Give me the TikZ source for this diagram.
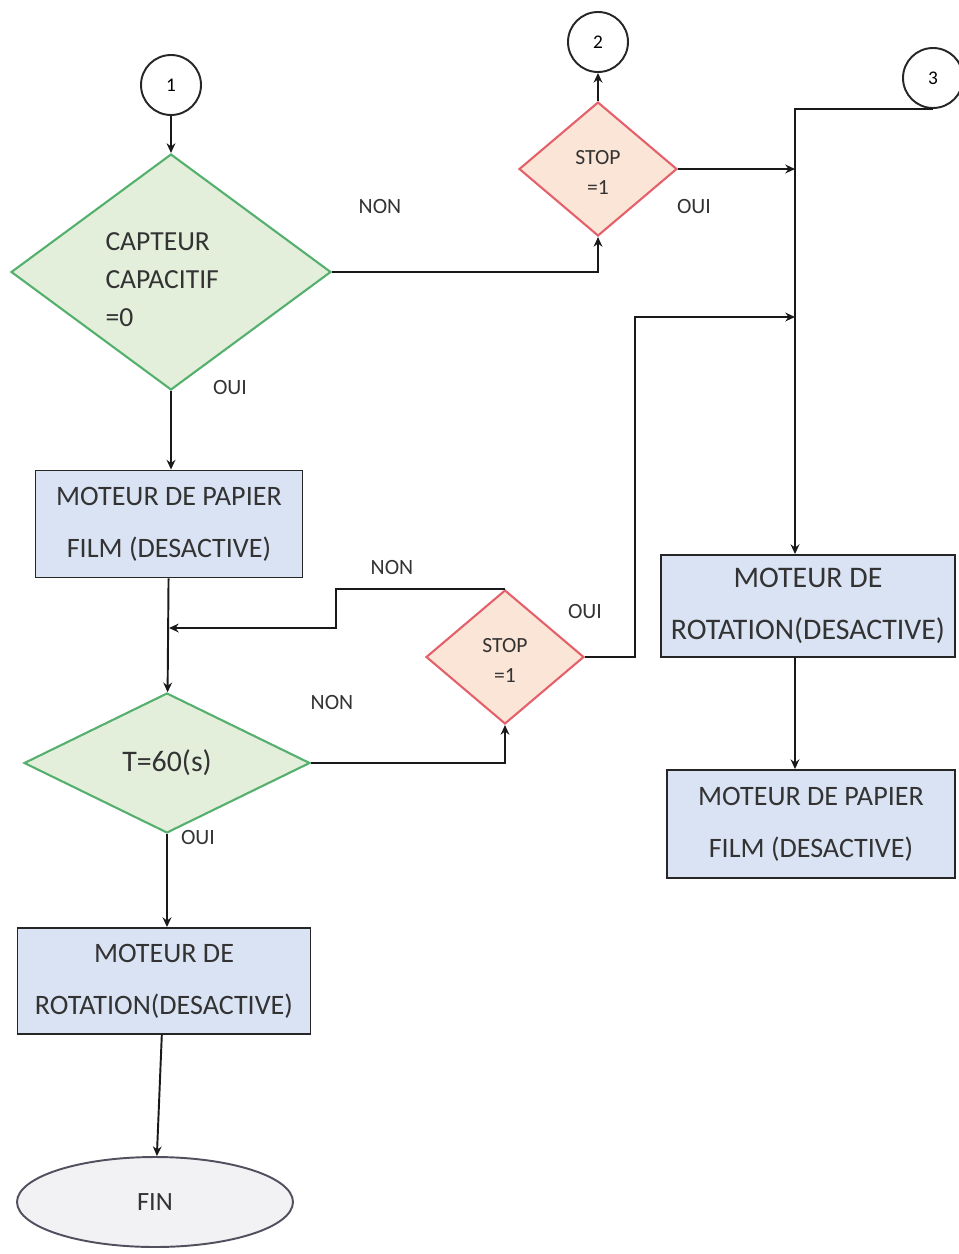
\documentclass[tikz,border=0pt]{standalone}
\usepackage{fontspec}
\setmainfont{Carlito}
\usetikzlibrary{arrows.meta,shapes.geometric,calc}
\definecolor{textgray}{HTML}{333333}
\definecolor{greenline}{HTML}{55B06E}
\definecolor{greenfill}{HTML}{E3EFDB}
\definecolor{redline}{HTML}{E4606A}
\definecolor{redfill}{HTML}{FBE5D6}
\definecolor{bluefill}{HTML}{DAE3F3}
\definecolor{finline}{HTML}{50505E}
\definecolor{finfill}{HTML}{F2F2F5}
\tikzset{
    wire/.style={line width=1.1pt, color=black!90},
    arr/.style={wire,-{Stealth[length=5.5pt,width=5pt]}},
    test green/.style={diamond,draw=greenline,fill=greenfill,line width=1.2pt,inner sep=0pt,text=textgray,
        font=\fontsize{15.7}{21.5}\selectfont},
    test red/.style={diamond,draw=redline,fill=redfill,line width=1.2pt,inner sep=0pt,text=textgray,
        minimum width=3.16cm,minimum height=2.68cm,align=center,font=\fontsize{12.3}{17}\selectfont},
    action/.style={rectangle,draw=black!85,fill=bluefill,line width=1.1pt,text=textgray,align=center,
        font=\fontsize{16}{29.5}\selectfont},
    refcircle/.style={circle,draw=black!85,line width=1.1pt,fill=white,minimum size=1.2cm,inner sep=0pt,
        font=\fontsize{11}{12}\selectfont},
    terminal/.style={ellipse,draw=finline,fill=finfill,line width=1.1pt,minimum width=5.52cm,minimum height=1.8cm,
        text=textgray,font=\fontsize{15}{18}\selectfont},
    lbl/.style={text=textgray,font=\fontsize{12.4}{13}\selectfont,inner sep=0pt},
}
% text lowered inside a shape, box size kept
\newcommand{\lowered}[2]{\raisebox{-#1}[\height][\depth]{#2}}

\begin{document}
\begin{tikzpicture}[x=0.02cm,y=-0.02cm]
    \useasboundingbox (0,0) rectangle (958,1254);

    % left column
    \node[refcircle] (c1) at (171,85) {1};
    \node[test green,aspect=1.36,minimum width=6.4cm,minimum height=4.72cm] (capteur) at (171,272)
        {\lowered{5pt}{\begin{tabular}{@{}l@{}}CAPTEUR\\CAPACITIF\\=0\end{tabular}}\hspace*{10pt}};
    \node[action,minimum width=5.34cm,minimum height=2.14cm] (papier) at (169,524) {MOTEUR DE PAPIER\\FILM (DESACTIVE)};
    \node[test green,minimum width=5.72cm,minimum height=2.8cm,font=\fontsize{17}{18}\selectfont] (tempo) at (167,763) {T=60(s)};
    \node[action,minimum width=5.86cm,minimum height=2.12cm] (rotation) at (164,981) {MOTEUR DE\\ROTATION(DESACTIVE)};
    \node[terminal] (fin) at (155,1202) {FIN};

    % stop tests
    \node[test red] (stopA) at (598,169) {\lowered{2.5pt}{\begin{tabular}{@{}c@{}}STOP\\=1\end{tabular}}};
    \node[refcircle] (c2) at (598,42) {2};
    \node[test red] (stopB) at (505,657) {\lowered{2.5pt}{\begin{tabular}{@{}c@{}}STOP\\=1\end{tabular}}};

    % right column
    \node[refcircle] (c3) at (933,78) {3};
    \node[action,minimum width=5.88cm,minimum height=2.04cm,font=\fontsize{17}{29.5}\selectfont] (rotationD) at (808,606) {MOTEUR DE\\ROTATION(DESACTIVE)};
    \node[action,minimum width=5.76cm,minimum height=2.16cm] (papierD) at (811,824) {MOTEUR DE PAPIER\\FILM (DESACTIVE)};

    \coordinate (jA) at (795,168);
    \coordinate (jB) at (795,317);
    \coordinate (bendB) at (635,317);
    \coordinate (bendC) at (336,628);
    \coordinate (merge) at (169,628);

    \draw[arr] (c1) -- (capteur);
    \draw[arr] (capteur.east) -| (stopA.south);
    \draw[arr] (stopA) -- (c2);
    \draw[arr] (stopA.east) -- (stopA.east -| jA);
    \draw[arr] (c3.south) -- (c3.south -| jA) -- (jA |- rotationD.north);
    \draw[arr] (capteur.south) -- (capteur.south |- papier.north);
    \draw[arr] (papier) -- (tempo);
    \draw[arr] (stopB.north) -| (bendC) -- (merge);
    \draw[arr] (tempo.east) -| (stopB.south);
    \draw[arr] (stopB.east) -| (bendB) -- (jB);
    \draw[arr] (tempo.south) -- (tempo.south |- rotation.north);
    \draw[arr] (rotation) -- (fin);
    \draw[arr] (rotationD.south -| jA) -- (papierD.north -| jA);

    % answers
    \node[lbl] (nonA) at (380,207) {NON};
    \node[lbl] (ouiA) at (694,207) {OUI};
    \node[lbl] (ouiB) at (230,388) {OUI};
    \node[lbl] (nonB) at (392,567) {NON};
    \node[lbl] (ouiC) at (585,612) {OUI};
    \node[lbl] (nonC) at (332,702) {NON};
    \node[lbl] (ouiD) at (198,838) {OUI};
\end{tikzpicture}
\end{document}
